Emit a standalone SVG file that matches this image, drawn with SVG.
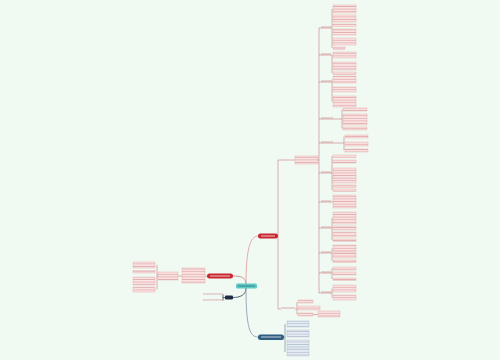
<svg xmlns="http://www.w3.org/2000/svg" width="500" height="360" viewBox="0 0 500 360">
<defs>
<pattern id="pk" width="4" height="2.6" patternUnits="userSpaceOnUse">
<rect width="4" height="2.6" fill="#fbe3e3"/>
<line x1="0" y1="1.3" x2="4" y2="1.3" stroke="#dba2a2" stroke-width="0.7"/>
</pattern>
<pattern id="bl" width="4" height="2.6" patternUnits="userSpaceOnUse">
<rect width="4" height="2.6" fill="#e6edf4"/>
<line x1="0" y1="1.3" x2="4" y2="1.3" stroke="#a9b8c8" stroke-width="0.7"/>
</pattern>
</defs>
<style>
.lf{fill:url(#pk);stroke:#e6a6a6;stroke-width:0.4}
.lb{fill:url(#bl);stroke:#a6b8cb;stroke-width:0.4}
.c{fill:none;stroke:#c97a7a;stroke-width:0.6}
.cm{fill:none;stroke-width:0.9}
.tb{fill:#d29a9a;opacity:0.8}
</style>
<rect width="500" height="360" fill="#f0f9f2"/>
<g id="connectors">
<path class="cm" stroke="#e2a3a3" d="M246,284 C246,250 250,236 258,236"/>
<path class="cm" stroke="#d88a8a" d="M246,284 C246,277 240,276 233,276"/>
<path class="cm" stroke="#4a5468" d="M246,288 C246,295 240,297.5 233,297.5"/>
<path class="cm" stroke="#8ea2b5" d="M246,288 C246,328 250,337 258,337"/>
<path class="c" d="M277,236 H278 M278,160 V309 M278,160 H295 M278,309 H281"/>
<path class="c" d="M318,160 H319 M319,28 V293"/>
<path class="c" d="M319,28 H332 M332,9 V48"/>
<path class="c" d="M319,55 H332 M332,55 V73"/>
<path class="c" d="M319,82 H332 M332,79.5 V101.5"/>
<path class="c" d="M319,119 H342 M342,109.5 V128.5"/>
<path class="c" d="M319,143 H344 M344,136.5 V150.5"/>
<path class="c" d="M319,173 H332 M332,156 V190"/>
<path class="c" d="M319,202 H333"/>
<path class="c" d="M319,228 H332 M332,218 V240"/>
<path class="c" d="M319,253 H332 M332,248.5 V261"/>
<path class="c" d="M319,273 H332 M332,268.5 V279"/>
<path class="c" d="M319,293 H332 M332,288.5 V297.5"/>
<path class="c" d="M295,309 H297 M297,302 V314.5 M313,314.5 H318"/>
<path class="c" d="M207,276 H205 M182,276 H178 M158,276 H157 M157,265 V289.5"/>
<path class="cm" stroke="#4a5468" stroke-width="0.5" d="M225,297.5 H223 M223,294.5 V300.5"/>
<path class="cm" stroke="#8ea2b5" stroke-width="0.6" d="M284,337 H285 M285,324 V352"/>
</g>
<g id="center"><rect x="236" y="283.5" width="21" height="5" rx="1.5" fill="#5ec9c6"/><rect x="238" y="285.5" width="17" height="1" fill="#1d5f60" opacity="0.6"/></g>
<g id="n-left-red"><rect x="207" y="273.5" width="26" height="5" rx="2.5" fill="#c7282f"/><rect x="210" y="275.5" width="20" height="1" fill="#ffffff" opacity="0.7"/></g>
<g id="n-dark"><rect x="225" y="295.5" width="8" height="4" rx="1" fill="#1e2c45"/></g>
<g id="n-top-red"><rect x="258" y="233.5" width="20" height="5" rx="2.5" fill="#c7282f"/><rect x="261" y="235.5" width="14" height="1" fill="#ffffff" opacity="0.7"/></g>
<g id="n-blue"><rect x="258" y="334.5" width="26" height="5.5" rx="2.5" fill="#2f5f80"/><rect x="261" y="336.5" width="20" height="1" fill="#ffffff" opacity="0.7"/></g>
<g id="left-leaves">
<rect class="lf" x="182" y="268" width="23" height="15"/>
<rect class="lf" x="158" y="272" width="20" height="8"/>
<rect class="lf" x="133" y="262" width="22" height="6"/>
<rect class="lf" x="133" y="270.5" width="22" height="2.5"/>
<rect class="lf" x="133" y="277" width="22" height="8"/>
<rect class="lf" x="133" y="287" width="22" height="5"/>
<rect class="tb" x="203" y="293.5" width="20" height="0.9"/>
<rect class="tb" x="203" y="299.5" width="20" height="0.9" fill="#777"/>
</g>
<g id="blue-leaves">
<rect class="lb" x="287" y="321" width="22" height="6"/>
<rect class="lb" x="287" y="330" width="22" height="7"/>
<rect class="lb" x="287" y="340" width="22" height="7"/>
<rect class="lb" x="287" y="348" width="22" height="8"/>
</g>
<g id="top-leaves">
<rect class="lf" x="295" y="156" width="23" height="8"/>
<rect class="tb" x="281" y="307.5" width="14" height="1"/>
<rect class="lf" x="298" y="300" width="15" height="3"/>
<rect class="lf" x="298" y="306" width="22" height="4"/>
<rect class="lf" x="298" y="313" width="15" height="3"/>
<rect class="lf" x="318" y="311" width="22" height="6"/>
<rect class="tb" x="321" y="26.5" width="10" height="1"/>
<rect class="tb" x="321" y="53.5" width="10" height="1"/>
<rect class="tb" x="321" y="80.5" width="10" height="1"/>
<rect class="tb" x="321" y="117.5" width="12" height="1"/>
<rect class="tb" x="321" y="141.5" width="12" height="1"/>
<rect class="tb" x="321" y="171.5" width="10" height="1"/>
<rect class="tb" x="321" y="200.5" width="10" height="1"/>
<rect class="tb" x="321" y="226.5" width="10" height="1"/>
<rect class="tb" x="321" y="251.5" width="10" height="1"/>
<rect class="tb" x="321" y="271.5" width="10" height="1"/>
<rect class="tb" x="321" y="291.5" width="10" height="1"/>
<rect class="lf" x="333" y="5" width="23" height="8"/>
<rect class="lf" x="333" y="15" width="23" height="7"/>
<rect class="lf" x="333" y="24" width="23" height="2.5"/>
<rect class="lf" x="333" y="29" width="23" height="6"/>
<rect class="lf" x="333" y="38" width="23" height="7"/>
<rect class="lf" x="333" y="47" width="12" height="2.5"/>
<rect class="lf" x="333" y="52" width="23" height="6"/>
<rect class="lf" x="333" y="62" width="23" height="8"/>
<rect class="lf" x="333" y="72" width="23" height="2.5"/>
<rect class="lf" x="333" y="76" width="23" height="7"/>
<rect class="lf" x="333" y="87" width="23" height="5"/>
<rect class="lf" x="333" y="96" width="23" height="11"/>
<rect class="lf" x="343" y="108" width="24" height="3"/>
<rect class="lf" x="343" y="114" width="24" height="11"/>
<rect class="lf" x="343" y="127" width="24" height="3"/>
<rect class="lf" x="345" y="135" width="23" height="3"/>
<rect class="lf" x="345" y="142" width="23" height="4"/>
<rect class="lf" x="345" y="149" width="23" height="3"/>
<rect class="lf" x="333" y="155" width="23" height="2.5"/>
<rect class="lf" x="333" y="160" width="23" height="3"/>
<rect class="lf" x="333" y="168" width="23" height="15"/>
<rect class="lf" x="333" y="185" width="23" height="2.5"/>
<rect class="lf" x="333" y="189" width="23" height="2.5"/>
<rect class="lf" x="333" y="195" width="23" height="13"/>
<rect class="lf" x="333" y="212" width="23" height="12"/>
<rect class="lf" x="333" y="226" width="23" height="4"/>
<rect class="lf" x="333" y="232" width="23" height="5"/>
<rect class="lf" x="333" y="239" width="23" height="2.5"/>
<rect class="lf" x="333" y="245" width="23" height="7"/>
<rect class="lf" x="333" y="253" width="23" height="5"/>
<rect class="lf" x="333" y="260" width="23" height="2.5"/>
<rect class="lf" x="333" y="267" width="23" height="3"/>
<rect class="lf" x="333" y="272" width="23" height="3"/>
<rect class="lf" x="333" y="278" width="23" height="2.5"/>
<rect class="lf" x="333" y="285" width="23" height="7"/>
<rect class="lf" x="333" y="295" width="23" height="5"/>
</g>
</svg>
